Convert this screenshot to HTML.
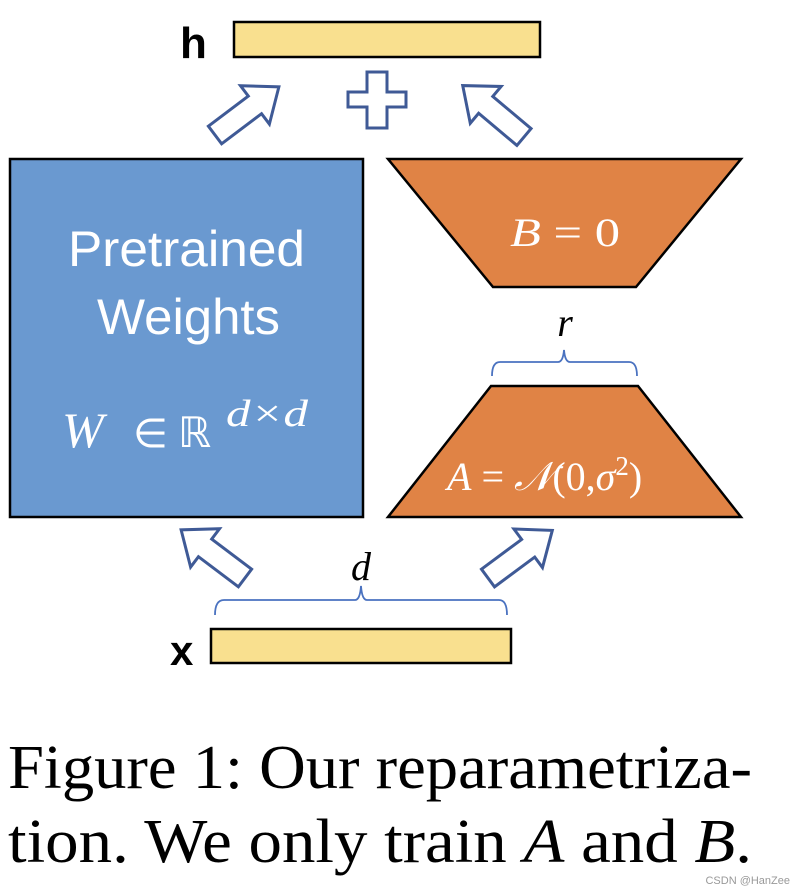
<!DOCTYPE html>
<html><head><meta charset="utf-8"><style>
html,body{margin:0;padding:0;background:#fff;}
svg{display:block;}
</style></head><body>
<svg width="804" height="892" viewBox="0 0 804 892" xmlns="http://www.w3.org/2000/svg">
<defs>
<polygon id="arr" points="0,-11 50,-11 50,-24 80,0 50,24 50,11 0,11" fill="#fff" stroke="#3F5A96" stroke-width="3" stroke-linejoin="miter"/>
</defs>
<text x="180" y="58" font-family="Liberation Sans, sans-serif" font-size="44" font-weight="bold">h</text>
<rect x="234" y="22" width="306" height="35" fill="#F9E08F" stroke="#000" stroke-width="2.5"/>
<polygon points="367,72 387,72 387,92 406,92 406,107 387,107 387,128 367,128 367,107 348,107 348,92 367,92" fill="#fff" stroke="#3F5A96" stroke-width="3"/>
<use href="#arr" transform="translate(215,135) rotate(-37)"/>
<use href="#arr" transform="translate(524,137) rotate(-140)"/>
<use href="#arr" transform="translate(245,578) rotate(-143)"/>
<use href="#arr" transform="translate(488,578) rotate(-36.5)"/>
<rect x="10" y="159" width="353" height="358" fill="#6A99D0" stroke="#000" stroke-width="2.5"/>
<text x="68" y="266" textLength="237" lengthAdjust="spacingAndGlyphs" fill="#fff" font-family="Liberation Sans, DejaVu Sans, sans-serif" font-size="50">Pretrained</text>
<text x="97" y="334" textLength="183" lengthAdjust="spacingAndGlyphs" fill="#fff" font-family="Liberation Sans, DejaVu Sans, sans-serif" font-size="50">Weights</text>
<text x="62" y="447" fill="#fff" font-family="Liberation Serif, serif" font-style="italic" font-size="50">W</text>
<text x="133" y="447" fill="#fff" font-family="DejaVu Sans, sans-serif" font-size="40">∈</text>
<text x="178" y="447" fill="#fff" font-family="DejaVu Sans, sans-serif" font-size="42">ℝ</text>
<text x="226" y="426" textLength="82" lengthAdjust="spacingAndGlyphs" fill="#fff" font-family="Liberation Serif, serif" font-style="italic" font-size="38">d×d</text>
<polygon points="388,159 741,159 636,287 493,287" fill="#E08345" stroke="#000" stroke-width="2.5"/>
<text x="510" y="246" textLength="110" lengthAdjust="spacingAndGlyphs" fill="#fff" font-family="Liberation Serif, serif" font-size="40"><tspan font-style="italic">B</tspan> = 0</text>
<polygon points="491,386 638,386 741,517 388,517" fill="#E08345" stroke="#000" stroke-width="2.5"/>
<text x="447" y="490" fill="#fff" font-family="Liberation Serif, serif" font-size="40"><tspan font-style="italic">A</tspan> = <tspan font-style="italic">𝒩</tspan>(0,<tspan font-style="italic">σ</tspan><tspan dy="-15" font-size="27">2</tspan><tspan dy="15">)</tspan></text>
<text x="565" y="336" text-anchor="middle" font-family="Liberation Serif, serif" font-style="italic" font-size="40">r</text>
<path d="M492,376 Q492,362 500,362 L558,362 Q563,362 564,350 Q565,362 570,362 L629,362 Q637,362 637,376" fill="none" stroke="#4A72C0" stroke-width="1.8"/>
<text x="361" y="580" text-anchor="middle" font-family="Liberation Serif, serif" font-style="italic" font-size="40">d</text>
<path d="M215,615 Q215,600 224,600 L355,600 Q360,600 361,586 Q362,600 367,600 L499,600 Q507,600 507,615" fill="none" stroke="#4A72C0" stroke-width="1.8"/>
<text x="170" y="665" font-family="Liberation Sans, sans-serif" font-size="42" font-weight="bold">x</text>
<rect x="211" y="629" width="300" height="34" fill="#F9E08F" stroke="#000" stroke-width="2.5"/>
<text x="8" y="788" textLength="744" lengthAdjust="spacingAndGlyphs" font-family="Liberation Serif, serif" font-size="62">Figure 1: Our reparametriza-</text>
<text x="8" y="862" textLength="744" lengthAdjust="spacingAndGlyphs" font-family="Liberation Serif, serif" font-size="62">tion. We only train <tspan font-style="italic">A</tspan> and <tspan font-style="italic">B</tspan>.</text>
<text x="790" y="884" text-anchor="end" fill="#999" font-family="Liberation Sans, sans-serif" font-size="11">CSDN @HanZee</text>
</svg>
</body></html>
